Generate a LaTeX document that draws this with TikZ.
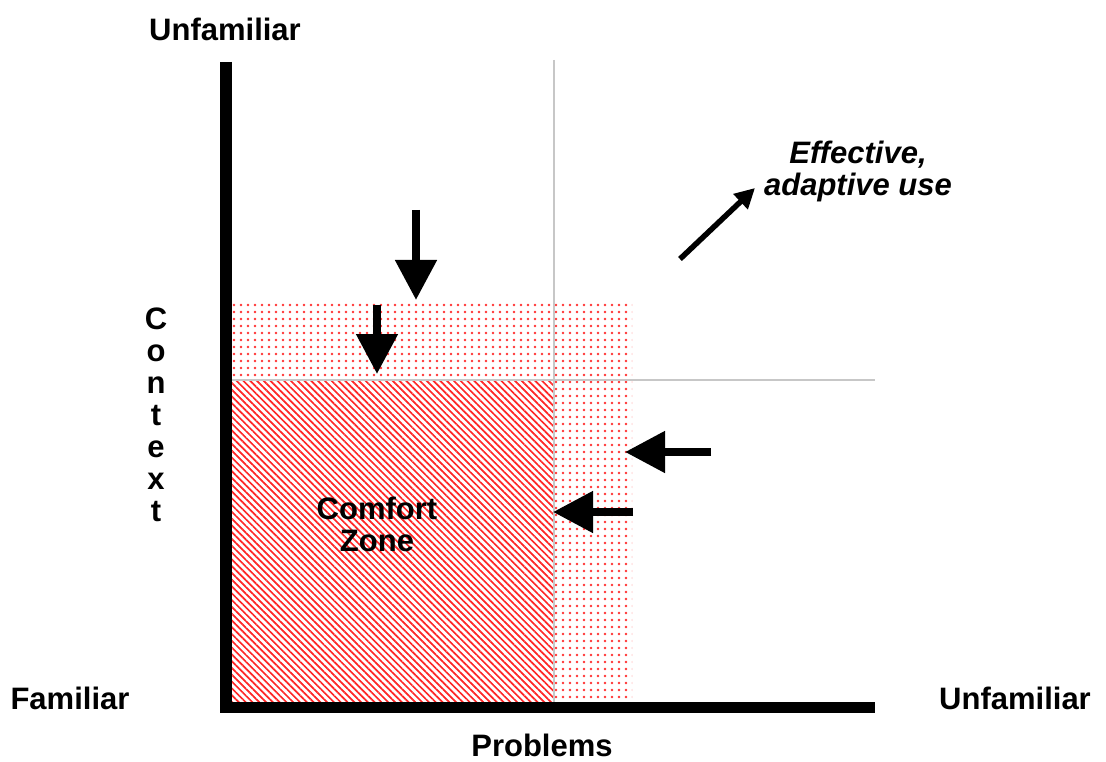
\documentclass[tikz,border=0pt]{standalone}
\usepackage{fontspec}
\setmainfont{Liberation Sans}
\usetikzlibrary{arrows.meta,patterns.meta}
\begin{document}
\begin{tikzpicture}[x=1pt,y=-1pt,
  lbl/.style={font=\fontsize{31}{32}\selectfont\bfseries, inner sep=0pt},
  axis/.style={line width=12pt, black},
  grid/.style={line width=2pt, black!22},
  dotsfill/.style={pattern={Dots[distance=6.5pt, radius=1.4pt, xshift=1pt]}, pattern color=red!80},
  hatchfill/.style={pattern={Lines[angle=-45, distance=4.8pt, line width=1.7pt]}, pattern color=red!85},
  blockarrow/.style={line width=8pt, -{Triangle[width=40pt,length=40pt]}},
  thinarrow/.style={line width=5.5pt, -{Triangle[width=20pt,length=20pt]}}
]
\useasboundingbox (0,0) rectangle (1106,762);
% shaded zones
\fill[dotsfill] (232,300) rectangle (632,702);
\fill[white] (232,380) rectangle (554,702);
\fill[hatchfill] (232,380) rectangle (554,702);
% grid lines
\coordinate (vgT) at (554,60);
\coordinate (vgB) at (554,702);
\coordinate (hgL) at (232,380);
\coordinate (hgR) at (875,380);
\draw[grid] (vgT) -- (vgB);
\draw[grid] (hgL) -- (hgR);
% axes
\coordinate (ytop) at (226,62);
\coordinate (ybot) at (226,713);
\coordinate (xstart) at (220,707.5);
\coordinate (xend) at (875,707.5);
\draw[axis] (ytop) -- (ybot);
\draw[axis, line width=11pt] (xstart) -- (xend);
% arrows
\coordinate (a1s) at (416,210); \coordinate (a1e) at (416,300);
\coordinate (a2s) at (377,305); \coordinate (a2e) at (377,374);
\coordinate (a3s) at (711,452); \coordinate (a3e) at (625,452);
\coordinate (a4s) at (633,512); \coordinate (a4e) at (553,512);
\coordinate (a5s) at (680,259); \coordinate (a5e) at (755,188);
\draw[blockarrow] (a1s) -- (a1e);
\draw[blockarrow] (a2s) -- (a2e);
\draw[blockarrow] (a3s) -- (a3e);
\draw[blockarrow] (a4s) -- (a4e);
\draw[thinarrow] (a5s) -- (a5e);
% labels
\node[lbl] (unfTop) at (225,29) {Unfamiliar};
\node[lbl] (fam) at (70,698) {Familiar};
\node[lbl] (unfR) at (1015,698) {Unfamiliar};
\node[lbl] (prob) at (542,745) {Problems};
\node[lbl, align=center, anchor=north] (ctx) at (156,308) {C\\o\\n\\t\\e\\x\\t};
\node[lbl, align=center] (cz) at (377,524) {Comfort\\Zone};
\node[lbl, font=\fontsize{31}{32}\selectfont\bfseries\itshape, align=center] (eff) at (858,171) {Effective,\\adaptive use};
\end{tikzpicture}
\end{document}
